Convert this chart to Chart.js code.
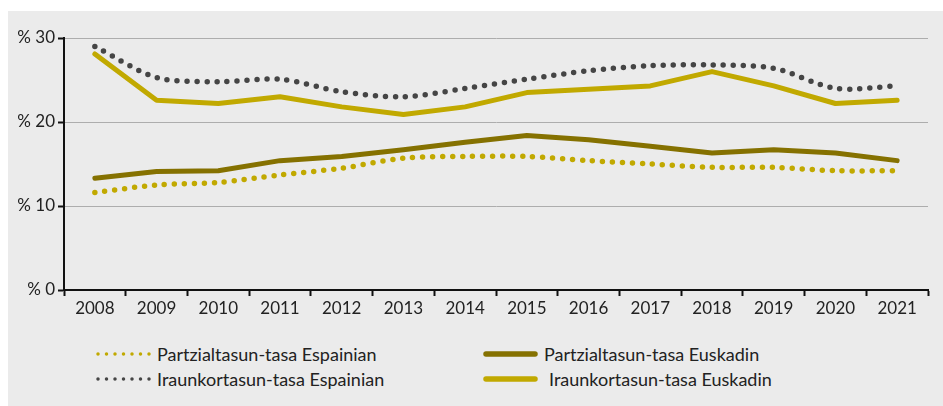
<!DOCTYPE html>
<html lang="eu">
<head>
  <meta charset="UTF-8">
  <title>Partzialtasun eta iraunkortasun tasak</title>
  <script src="https://cdn.jsdelivr.net/npm/chart.js"></script>
  <style>
    html, body { margin: 0; padding: 0; background: #ffffff; }
    body { width: 943px; height: 406px; position: relative; overflow: hidden; font-family: Lato, sans-serif; }
    .panel { position: absolute; left: 8px; top: 11px; right: 0; bottom: 0; background: #ebebeb; }
    .grafiko { position: absolute; left: 0; top: 0; width: 943px; height: 320px; }
    .legenda { position: absolute; top: 342px; left: 0; width: 943px; font-size: 18px; color: #222; }
    .item { position: absolute; display: flex; align-items: center; height: 24px; white-space: nowrap; }
  </style>
</head>
<body>
  <div class="panel"></div>
  <div class="grafiko"><canvas id="grafikoa"></canvas></div>
  <div class="legenda" id="legenda"></div>

<script>
  const urteak = ['2008', '2009', '2010', '2011', '2012', '2013', '2014', '2015', '2016', '2017', '2018', '2019', '2020', '2021'];

  const partzialEspainia = [11.6, 12.5, 12.8, 13.7, 14.5, 15.7, 15.9, 15.9, 15.4, 15.0, 14.6, 14.6, 14.2, 14.2];
  const iraunkorEspainia = [29.0, 25.3, 24.8, 25.1, 23.6, 23.0, 24.0, 25.1, 26.1, 26.7, 26.8, 26.4, 24.0, 24.3];
  const partzialEuskadi = [13.3, 14.1, 14.2, 15.4, 15.9, 16.7, 17.6, 18.4, 17.9, 17.1, 16.3, 16.7, 16.3, 15.4];
  const iraunkorEuskadi = [28.1, 22.6, 22.2, 23.0, 21.8, 20.9, 21.8, 23.5, 23.9, 24.3, 26.0, 24.3, 22.2, 22.6];

  const yTickak = [0, 10, 20, 30];

  const urrea = '#c1a900';
  const oliba = '#857100';
  const grisa = '#454545';

  const seriek = [
    { izena: 'Partzialtasun-tasa Espainian', datuak: partzialEspainia, kolorea: urrea, puntuak: true, x: 95, y: 0 },
    { izena: 'Iraunkortasun-tasa Espainian', datuak: iraunkorEspainia, kolorea: grisa, puntuak: true, x: 95, y: 25 },
    { izena: 'Partzialtasun-tasa Euskadin', datuak: partzialEuskadi, kolorea: oliba, puntuak: false, x: 482, y: 0 },
    { izena: 'Iraunkortasun-tasa Euskadin', datuak: iraunkorEuskadi, kolorea: urrea, puntuak: false, x: 482, y: 25, tartea: 5 }
  ];

  const datasets = seriek.map(s => ({
    label: s.izena,
    data: s.datuak,
    borderColor: s.kolorea,
    backgroundColor: s.kolorea,
    borderWidth: s.puntuak ? 5.5 : 5,
    borderDash: s.puntuak ? [0, 10] : [],
    borderCapStyle: 'round',
    borderJoinStyle: 'round',
    tension: s.puntuak ? 0.3 : 0,
    pointRadius: 0,
    fill: false
  }));

  // marrazki ordena: lerro solidoak atzean
  const ordena = [datasets[2], datasets[3], datasets[0], datasets[1]];

  new Chart(document.getElementById('grafikoa'), {
    type: 'line',
    data: { labels: urteak, datasets: ordena },
    options: {
      responsive: true,
      maintainAspectRatio: false,
      animation: false,
      layout: { padding: { top: 38, right: 15, left: 0, bottom: 0 } },
      plugins: { legend: { display: false }, tooltip: { enabled: false } },
      scales: {
        x: {
          offset: true,
          grid: { offset: true, drawOnChartArea: false, tickColor: '#111', tickWidth: 2, tickLength: 6 },
          border: { color: '#111', width: 2 },
          ticks: { color: '#222', font: { family: 'Lato', size: 17 }, padding: 2, maxRotation: 0 },
          afterFit: sc => { sc.height = 30; }
        },
        y: {
          min: 0,
          max: 30,
          afterBuildTicks: sc => { sc.ticks = yTickak.map(v => ({ value: v })); },
          grid: { color: '#adadad', lineWidth: 1, borderDash: [1, 2], tickColor: '#111', tickWidth: 2, tickLength: 6, tickBorderDash: [] },
          border: { color: '#111', width: 2 },
          ticks: { color: '#222', font: { family: 'Lato', size: 17 }, padding: 3, callback: v => '% ' + v },
          afterFit: sc => { sc.width = 64; }
        }
      }
    }
  });

  // legenda
  const legenda = document.getElementById('legenda');
  seriek.forEach(s => {
    const div = document.createElement('div');
    div.className = 'item';
    div.style.left = s.x + 'px';
    div.style.top = s.y + 'px';
    const c = document.createElement('canvas');
    c.width = 56; c.height = 10;
    const g = c.getContext('2d');
    g.strokeStyle = s.kolorea;
    g.lineCap = 'round';
    g.beginPath();
    if (s.puntuak) {
      g.lineWidth = 3.5;
      g.setLineDash([0, 8.5]);
      g.moveTo(3, 5); g.lineTo(55, 5);
    } else {
      g.lineWidth = 5.5;
      g.moveTo(4, 5); g.lineTo(53, 5);
    }
    g.stroke();
    c.style.marginRight = (s.tartea ? 6 + s.tartea : 6) + 'px';
    div.appendChild(c);
    div.appendChild(document.createTextNode(s.izena));
    legenda.appendChild(div);
  });
</script>
</body>
</html>
